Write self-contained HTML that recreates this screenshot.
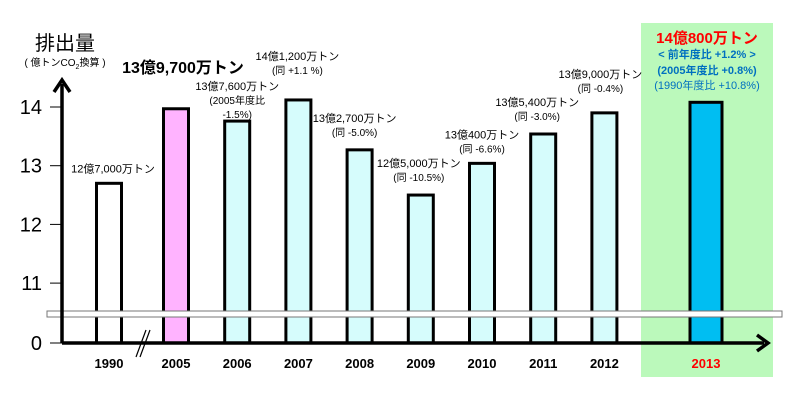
<!DOCTYPE html>
<html><head><meta charset="utf-8"><style>
body{margin:0;background:#fff}
svg{display:block;font-family:"Liberation Sans","Noto Sans CJK JP",sans-serif}
</style></head><body>
<svg id="chart" width="800" height="400" viewBox="0 0 800 400">
<rect x="641" y="23" width="132" height="354" fill="#bbf9bb"/>
<g id="bars"></g>
<g id="labels"></g>
<rect x="47" y="311" width="735" height="6" fill="#fff" stroke="#777" stroke-width="1"/>
<line x1="62" y1="343" x2="764" y2="343" stroke="#000" stroke-width="3.5"/>
<polyline points="757,335 768,343 757,351" fill="none" stroke="#000" stroke-width="3.5"/>
<line x1="62" y1="343" x2="62" y2="84" stroke="#000" stroke-width="3.5"/>
<polyline points="54,92 62,80 70,92" fill="none" stroke="#000" stroke-width="3.5"/>
<g stroke="#000" stroke-width="1.2">
<line x1="136" y1="357" x2="146" y2="330"/><line x1="140" y1="357" x2="150" y2="330"/></g>
<g id="yticks"></g>
<text x="65" y="50" font-size="20" text-anchor="middle">排出量</text>
<text x="65" y="66" font-size="10" text-anchor="middle">( 億トンCO<tspan font-size="7" dy="3">2</tspan><tspan dy="-3">換算 )</tspan></text>
<text x="183" y="73" font-size="16" font-weight="bold" text-anchor="middle">13億9,700万トン</text>
<text x="707" y="43" font-size="15" font-weight="bold" fill="#f00" text-anchor="middle">14億800万トン</text>
<text x="707" y="58" font-size="11" font-weight="bold" fill="#0070c0" text-anchor="middle">&lt; 前年度比 +1.2% &gt;</text>
<text x="707" y="74" font-size="11" font-weight="bold" fill="#0070c0" text-anchor="middle">(2005年度比 +0.8%)</text>
<text x="707" y="89" font-size="11" fill="#0070c0" text-anchor="middle">(1990年度比 +10.8%)</text>
</svg>
<script>
const years=["1990","2005","2006","2007","2008","2009","2010","2011","2012","2013"];
const values=[12.7,13.97,13.76,14.12,13.27,12.5,13.04,13.54,13.90,14.08];
const yTicks=[11,12,13,14];
const barLabels=[["12億7,000万トン"],[],["13億7,600万トン","(2005年度比","-1.5%)"],["14億1,200万トン","(同 +1.1 %)"],["13億2,700万トン","(同 -5.0%)"],["12億5,000万トン","(同 -10.5%)"],["13億400万トン","(同 -6.6%)"],["13億5,400万トン","(同 -3.0%)"],["13億9,000万トン","(同 -0.4%)"],[]];
const NS="http://www.w3.org/2000/svg";
const yS=v=>107+(14-v)*58.7;
const xC=i=>i===0?109:(i===9?706:176+(i-1)*61.2);
const labelDx=[4,0,0,-1,-5,-2,0,-6,-4,0];
const labelDy=[-11,0,-31,-40,-28,-28,-25,-28,-35,0];
const bars=document.getElementById('bars'),labels=document.getElementById('labels'),yt=document.getElementById('yticks');
const fills=i=>i===0?"#fff":i===1?"#ffb3ff":i===9?"#00bef2":"#d6fcfc";
years.forEach((y,i)=>{
  const w=i===9?32:25,top=yS(values[i]);
  const r=document.createElementNS(NS,'rect');
  r.setAttribute('x',xC(i)-w/2);r.setAttribute('y',top);r.setAttribute('width',w);r.setAttribute('height',343-top);
  r.setAttribute('fill',fills(i));r.setAttribute('stroke','#000');r.setAttribute('stroke-width','3');
  
  
  bars.appendChild(r);
  const t=document.createElementNS(NS,'text');
  t.setAttribute('x',xC(i));t.setAttribute('y',368);t.setAttribute('text-anchor','middle');
  t.setAttribute('font-size','13');t.setAttribute('font-weight','bold');t.setAttribute('fill',i===9?'#f00':'#000');
  t.textContent=y;
  
  
  labels.appendChild(t);
  barLabels[i].forEach((s,k)=>{
    const tt=document.createElementNS(NS,'text');
    tt.setAttribute('x',xC(i)+labelDx[i]);
    tt.setAttribute('y',top+labelDy[i]+k*14);
    tt.setAttribute('text-anchor','middle');
    tt.setAttribute('font-size',k===0?'11':'10');
    tt.textContent=s;
    
    
    labels.appendChild(tt);
  });
});
yTicks.forEach(v=>{
  const l=document.createElementNS(NS,'line');
  l.setAttribute('x1',50);l.setAttribute('x2',62);l.setAttribute('y1',yS(v));l.setAttribute('y2',yS(v));l.setAttribute('stroke','#000');
  
  
  yt.appendChild(l);
  const t=document.createElementNS(NS,'text');
  t.setAttribute('x',42);t.setAttribute('y',yS(v)+7);t.setAttribute('text-anchor','end');t.setAttribute('font-size','20');
  t.textContent=v;
  
  
  yt.appendChild(t);
});
const l0=document.createElementNS(NS,'line');
l0.setAttribute('x1',50);l0.setAttribute('x2',62);l0.setAttribute('y1',343);l0.setAttribute('y2',343);l0.setAttribute('stroke','#000');


yt.appendChild(l0);
const t0=document.createElementNS(NS,'text');
t0.setAttribute('x',42);t0.setAttribute('y',350);t0.setAttribute('text-anchor','end');t0.setAttribute('font-size','20');t0.textContent='0';


yt.appendChild(t0);
</script>
</body></html>
